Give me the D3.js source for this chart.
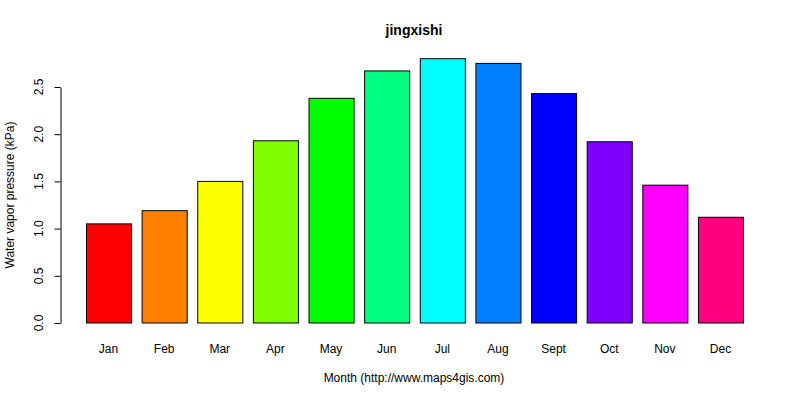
<!DOCTYPE html>
<html><head><meta charset="utf-8">
<script src="https://cdn.jsdelivr.net/npm/d3@7"></script>
<style>body{margin:0;background:#fff}text{font-family:"Liberation Sans",Arial,sans-serif}</style>
</head><body>
<svg id="c" width="800" height="400"></svg>
<script>
const months = ["Jan","Feb","Mar","Apr","May","Jun","Jul","Aug","Sept","Oct","Nov","Dec"];
const values = [1.05,1.19,1.50,1.93,2.38,2.67,2.80,2.75,2.43,1.92,1.46,1.12];
const colors = ["#FF0000","#FF8000","#FFFF00","#80FF00","#00FF00","#00FF80","#00FFFF","#0080FF","#0000FF","#8000FF","#FF00FF","#FF0080"];
const yTicks = [0,0.5,1.0,1.5,2.0,2.5];

const svg = d3.select("#c");
const y = d3.scaleLinear().domain([0,2.5]).range([323,87]);
const x = d3.scaleBand().domain(months).range([80.7,748.3]).paddingInner(0.19).paddingOuter(0.095);

svg.selectAll("rect").data(values).join("rect")
  .attr("x",(d,i)=>x(months[i])+0.5).attr("width",x.bandwidth())
  .attr("y",d=>y(d)).attr("height",d=>y(0)-y(d))
  .attr("fill",(d,i)=>colors[i]).attr("stroke","#000").attr("stroke-width",1);

const ya = svg.append("g").attr("transform","translate(60.5,0)")
  .call(d3.axisLeft(y).tickValues(yTicks).tickFormat("").tickSize(6).tickSizeOuter(0));
ya.select(".domain").attr("stroke","#000");

svg.selectAll("text.yl").data(yTicks).join("text").attr("class","yl")
  .attr("transform",d=>`translate(43,${y(d)}) rotate(-90)`)
  .attr("text-anchor","middle").attr("font-size",12).text(d=>d3.format(".1f")(d));

svg.selectAll("text.xl").data(months).join("text").attr("class","xl")
  .attr("x",d=>x(d)+x.bandwidth()/2).attr("y",353).attr("text-anchor","middle")
  .attr("font-size",12).text(d=>d);

svg.append("text").attr("x",414).attr("y",35).attr("text-anchor","middle")
  .attr("font-size",14).attr("font-weight","bold").text("jingxishi");
svg.append("text").attr("x",414).attr("y",382).attr("text-anchor","middle")
  .attr("font-size",12).text("Month (http://www.maps4gis.com)");
svg.append("text").attr("transform","translate(14,195) rotate(-90)").attr("text-anchor","middle")
  .attr("font-size",12).text("Water vapor pressure (kPa)");
</script>
</body></html>
